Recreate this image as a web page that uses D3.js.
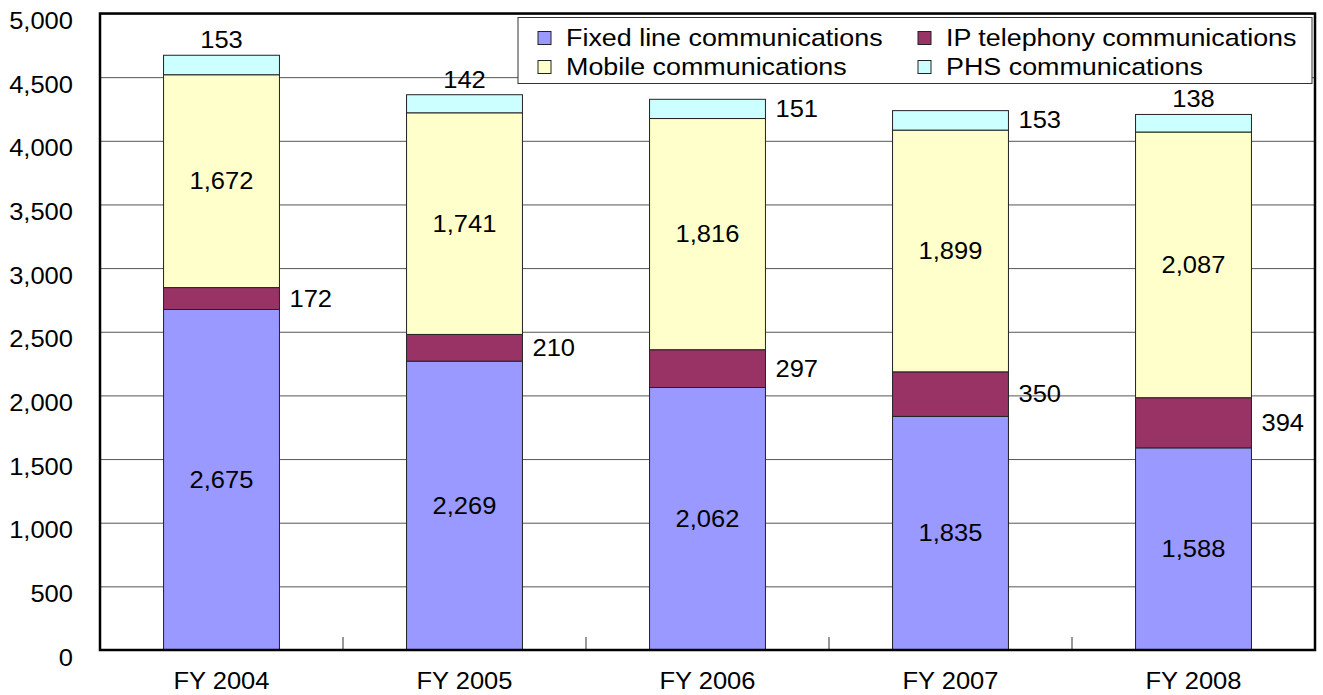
<!DOCTYPE html>
<html>
<head>
<meta charset="utf-8">
<script src="https://cdn.jsdelivr.net/npm/d3@7"></script>
<style>
  body { margin: 0; background: #fff; }
  text { font-family: "Liberation Sans", Arial, sans-serif; fill: #000; }
</style>
</head>
<body>
<div id="chart"></div>
<script>
// Chart data
let years = ["FY 2004", "FY 2005", "FY 2006", "FY 2007", "FY 2008"];
let fixedLine = [2675, 2269, 2062, 1835, 1588];
let ipPhone = [172, 210, 297, 350, 394];
let mobile = [1672, 1741, 1816, 1899, 2087];
let phs = [153, 142, 151, 153, 138];
let phsLabelSide = ["above", "above", "right", "right", "above"];
let yTicks = [0, 500, 1000, 1500, 2000, 2500, 3000, 3500, 4000, 4500, 5000];

let seriesNames = ["Fixed line communications", "IP telephony communications", "Mobile communications", "PHS communications"];
let seriesColors = ["#9999ff", "#993366", "#ffffcc", "#ccffff"];

let margin = {top: 13.5, right: 8, bottom: 45, left: 100};
let width = 1323 - margin.left - margin.right;
let height = 695 - margin.top - margin.bottom;
let fmt = d3.format(",");
let numSize = 23, numScale = 1.11;

let svg = d3.select("#chart").append("svg")
    .attr("width", 1323)
    .attr("height", 695)
    .append("g")
    .attr("transform", "translate(" + margin.left + "," + margin.top + ")");

// stretched text, the reference font is wider than Arial
function label(sel, x, y, txt, anchor, size, sx) {
    return sel.append("text")
        .attr("transform", "translate(" + x + "," + y + ") scale(" + sx + ",1)")
        .attr("text-anchor", anchor)
        .attr("dominant-baseline", "central")
        .style("font-size", size + "px")
        .text(txt);
}

// scales
let x = d3.scaleBand().domain(years).range([0, width]).padding(0);
let y = d3.scaleLinear().domain([0, 5000]).range([height, 0]);
let barW = x.bandwidth() * 0.477;

// gridlines
let grid = svg.append("g")
    .call(d3.axisLeft(y).tickValues(yTicks).tickSize(-width).tickFormat(""));
grid.select(".domain").remove();
grid.selectAll("line").attr("stroke", "#555").attr("stroke-width", 1);

// stack the series
let table = years.map((yr, i) => ({
    year: yr, fixed: fixedLine[i], ip: ipPhone[i], mobile: mobile[i], phs: phs[i]
}));
let keys = ["fixed", "ip", "mobile", "phs"];
let stacked = d3.stack().keys(keys)(table);

let layers = svg.selectAll(".layer")
    .data(stacked)
    .enter().append("g")
    .attr("class", "layer")
    .attr("fill", (d, i) => seriesColors[i]);

layers.selectAll("rect")
    .data(d => d)
    .enter().append("rect")
    .attr("x", d => x(d.data.year) + (x.bandwidth() - barW) / 2)
    .attr("y", d => y(d[1]))
    .attr("width", barW)
    .attr("height", d => y(d[0]) - y(d[1]))
    .attr("stroke", "#222")
    .attr("stroke-width", 1);

// data labels
let labels = svg.append("g");
stacked.forEach((layer, k) => {
    layer.forEach((d, i) => {
        let cx = x(d.data.year) + x.bandwidth() / 2;
        let right = cx + barW / 2 + 10;
        let mid = y((d[0] + d[1]) / 2);
        let v = d[1] - d[0];
        if (k === 0 || k === 2) {
            label(labels, cx, mid, fmt(v), "middle", numSize, numScale);
        } else if (k === 1) {
            label(labels, right, mid, fmt(v), "start", numSize, numScale);
        } else if (phsLabelSide[i] === "right") {
            label(labels, right, mid, fmt(v), "start", numSize, numScale);
        } else {
            label(labels, cx, y(d[1]) - 15, fmt(v), "middle", numSize, numScale);
        }
    });
});

// y axis labels
let yAxis = svg.append("g")
    .call(d3.axisLeft(y).tickValues(yTicks).tickSize(0).tickFormat(fmt));
yAxis.select(".domain").remove();
yAxis.selectAll("text")
    .attr("x", null).attr("dy", null)
    .attr("dominant-baseline", "central")
    .attr("transform", "translate(-27,7) scale(" + numScale + ",1)")
    .style("font-size", numSize + "px")
    .style("font-family", "'Liberation Sans', Arial, sans-serif");

// x axis: ticks between categories pointing up
let xAxis = svg.append("g");
years.slice(0, -1).forEach(yr => {
    let bx = x(yr) + x.bandwidth();
    xAxis.append("line")
        .attr("x1", bx).attr("x2", bx)
        .attr("y1", height).attr("y2", height - 13)
        .attr("stroke", "#333").attr("stroke-width", 1);
});
years.forEach(yr => {
    label(xAxis, x(yr) + x.bandwidth() / 2, height + 31, yr, "middle", numSize, numScale);
});

// plot frame
svg.append("rect")
    .attr("width", width).attr("height", height)
    .attr("fill", "none").attr("stroke", "#000").attr("stroke-width", 2.5);

// legend
let legend = svg.append("g")
    .attr("transform", "translate(" + (518 - margin.left) + "," + (17.5 - margin.top) + ")");
legend.append("rect")
    .attr("width", 794).attr("height", 66)
    .attr("fill", "#fff").attr("stroke", "#333").attr("stroke-width", 1);
let legendPos = [[0, 0], [380, 0], [0, 1], [380, 1]];
seriesNames.forEach((name, i) => {
    let gx = 20 + legendPos[i][0];
    let gy = 20.5 + legendPos[i][1] * 29;
    legend.append("rect")
        .attr("x", gx).attr("y", gy - 6.5)
        .attr("width", 13).attr("height", 13)
        .attr("fill", seriesColors[i]).attr("stroke", "#222").attr("stroke-width", 1);
    label(legend, gx + 28, gy, name, "start", 24, 1.12);
});
</script>
</body>
</html>
